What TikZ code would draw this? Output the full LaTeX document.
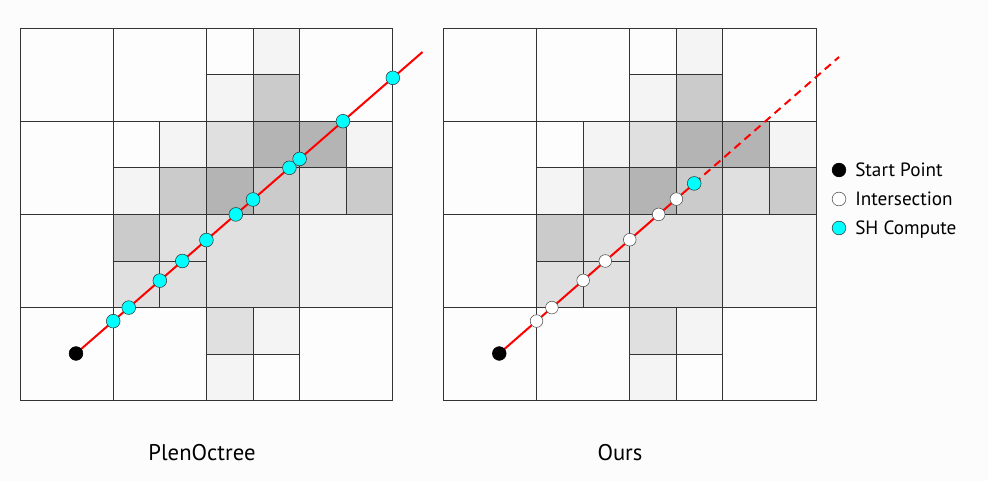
\documentclass[tikz,border=0pt]{standalone}
\usepackage{fontspec}
\setmainfont{PT Sans}
\usetikzlibrary{calc}
\definecolor{bgc}{HTML}{FCFCFC}
\definecolor{cW}{HTML}{FDFDFD}
\definecolor{cL}{HTML}{F4F4F4}
\definecolor{cG}{HTML}{E0E0E0}
\definecolor{cM}{HTML}{CBCBCB}
\definecolor{cD}{HTML}{B4B4B4}
\definecolor{shc}{HTML}{00FFFF}
\newcommand\mygrid[1]{%
  \foreach \c/\r/\s/\col in {0/0/2/cW,2/0/2/cW,6/0/2/cW,0/2/2/cW,0/4/2/cW,0/6/2/cW,2/6/2/cW,6/6/2/cW,
    4/0/1/cW,5/0/1/cL,4/1/1/cL,5/1/1/cM,
    2/2/1/cW,3/2/1/cL,2/3/1/cL,3/3/1/cM,
    4/2/1/cG,5/2/1/cD,4/3/1/cD,5/3/1/cM,
    6/2/1/cD,7/2/1/cL,6/3/1/cG,7/3/1/cM,
    2/4/1/cM,3/4/1/cG,2/5/1/cG,3/5/1/cG,
    4/4/2/cG,6/4/2/cL,
    4/6/1/cG,5/6/1/cL,4/7/1/cL,5/7/1/cW}{
    \fill[\col] ({#1+20+\c*46.6},{28+\r*46.6}) rectangle ++({\s*46.6},{\s*46.6});
    \draw[cellline] ({#1+20+\c*46.6},{28+\r*46.6}) rectangle ++({\s*46.6},{\s*46.6});
  }%
}
\begin{document}
\begin{tikzpicture}[x=0.75pt,y=-0.75pt,
  cellline/.style={draw=black!80,line width=0.65pt},
  ray/.style={draw=red,line width=1.5pt},
  dot/.style={circle,inner sep=0pt,minimum size=10.3pt,line width=0.4pt},
  startpt/.style={dot,fill=black,draw=black},
  inter/.style={dot,fill=white,draw=black!70,minimum size=9.5pt},
  sh/.style={dot,fill=shc,draw=black!80},
  legtxt/.style={inner sep=0pt,anchor=base west,font=\fontsize{14.4}{17}\selectfont},
  ttl/.style={inner sep=0pt,anchor=base,font=\fontsize{17}{20}\selectfont}]
\fill[bgc] (0,0) rectangle (988,481);
\useasboundingbox (0,0) rectangle (988,481);
\mygrid{0}
\mygrid{423.3}
% left ray
\coordinate (LS) at (76,353.5);
\coordinate (LE) at (422.5,52);
\draw[ray] (LS) -- (LE);
\node[sh] (l1) at (intersection of LS--LE and 113.2,0--113.2,500) {};
\node[sh] (l2) at (intersection of LS--LE and 0,307.6--900,307.6) {};
\node[sh] (l3) at (intersection of LS--LE and 159.8,0--159.8,500) {};
\node[sh] (l4) at (intersection of LS--LE and 0,261--900,261) {};
\node[sh] (l5) at (intersection of LS--LE and 206.4,0--206.4,500) {};
\node[sh] (l6) at (intersection of LS--LE and 0,214.4--900,214.4) {};
\node[sh] (l7) at (intersection of LS--LE and 253,0--253,500) {};
\node[sh] (l8) at (intersection of LS--LE and 0,167.8--900,167.8) {};
\node[sh] (l9) at (intersection of LS--LE and 299.6,0--299.6,500) {};
\node[sh] (l10) at (intersection of LS--LE and 0,121.2--900,121.2) {};
\node[sh] (l11) at (intersection of LS--LE and 392.8,0--392.8,500) {};
\node[startpt] (ls) at (LS) {};
% right ray
\coordinate (RS) at (499.3,353.5);
\coordinate (RE) at (839,57);
\coordinate (rv5) at (intersection of RS--RE and 676.3,0--676.3,500);
\coordinate (rq) at (intersection of RS--RE and 0,167.8--900,167.8);
\coordinate (rc) at ($(rv5)!0.5!(rq)$);
\draw[ray] (RS) -- (rc);
\draw[ray,dash pattern=on 6pt off 4pt] (rc) -- (RE);
\node[inter] (r1) at (intersection of RS--RE and 536.5,0--536.5,500) {};
\node[inter] (r2) at (intersection of RS--RE and 0,307.6--900,307.6) {};
\node[inter] (r3) at (intersection of RS--RE and 583.1,0--583.1,500) {};
\node[inter] (r4) at (intersection of RS--RE and 0,261--900,261) {};
\node[inter] (r5) at (intersection of RS--RE and 629.7,0--629.7,500) {};
\node[inter] (r6) at (intersection of RS--RE and 0,214.4--900,214.4) {};
\node[inter] (r7) at (rv5) {};
\node[sh] (r8) at (rc) {};
\node[startpt] (rs) at (RS) {};
% legend
\node[startpt] (k1) at (839,170) {};
\node[inter,minimum size=10.3pt] (k2) at (839,199) {};
\node[sh] (k3) at (839,228) {};
\node[legtxt] (t1) at (855,176) {Start Point};
\node[legtxt] (t2) at (855,205) {Intersection};
\node[legtxt] (t3) at (855,234) {SH Compute};
% titles
\node[ttl] (a1) at (202,460) {PlenOctree};
\node[ttl] (a2) at (620,460) {Ours};
\end{tikzpicture}
\end{document}
